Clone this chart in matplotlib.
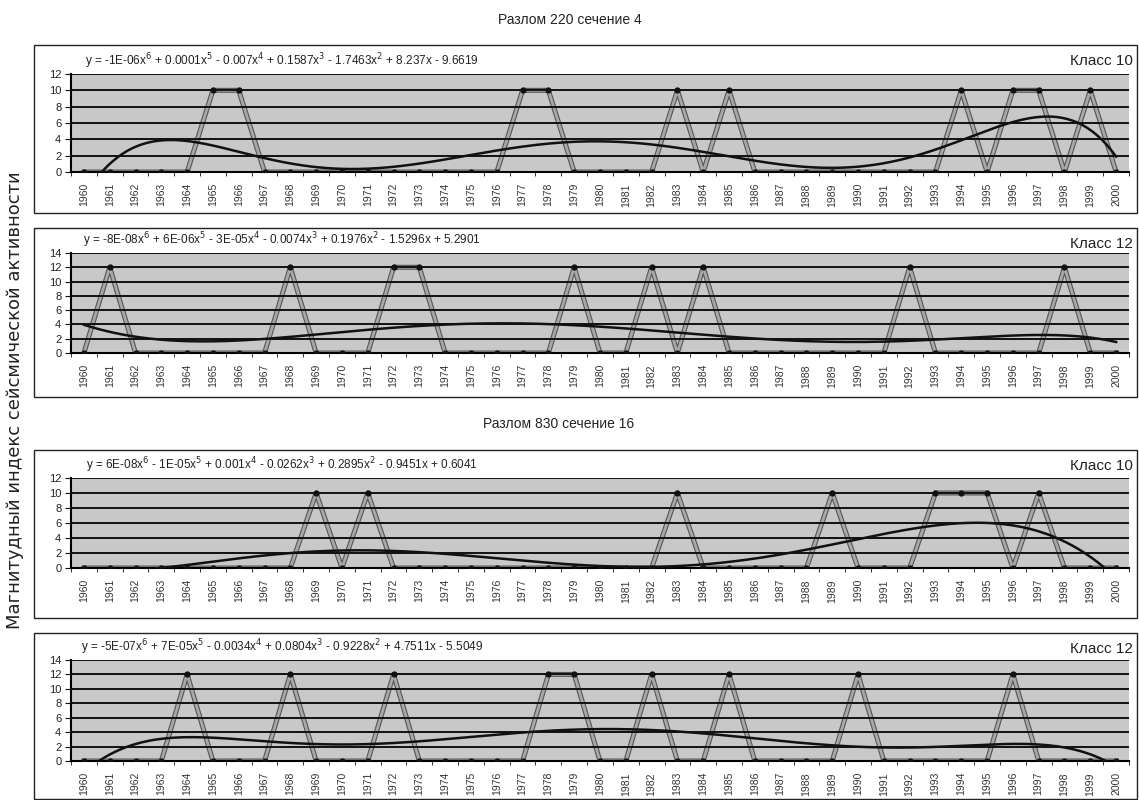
import numpy as np
import matplotlib.pyplot as plt
import matplotlib.patheffects as pe
from matplotlib.patches import Rectangle

years = list(range(1960, 2001))

# peak years for each panel, every other year is 0
f220_k10_years = [1965, 1966, 1977, 1978, 1983, 1985, 1994, 1996, 1997, 1999]
f220_k12_years = [1961, 1968, 1972, 1973, 1979, 1982, 1984, 1992, 1998]
f830_k10_years = [1969, 1971, 1983, 1989, 1993, 1994, 1995, 1997]
f830_k12_years = [1964, 1968, 1972, 1978, 1979, 1982, 1985, 1990, 1996]

f220_k10 = [10 if y in f220_k10_years else 0 for y in years]
f220_k12 = [12 if y in f220_k12_years else 0 for y in years]
f830_k10 = [10 if y in f830_k10_years else 0 for y in years]
f830_k12 = [12 if y in f830_k12_years else 0 for y in years]

eq_220_10 = ("y = -1E-06x$^6$ + 0.0001x$^5$ - 0.007x$^4$ + 0.1587x$^3$ "
             "- 1.7463x$^2$ + 8.237x - 9.6619")
eq_220_12 = ("y = -8E-08x$^6$ + 6E-06x$^5$ - 3E-05x$^4$ - 0.0074x$^3$ "
             "+ 0.1976x$^2$ - 1.5296x + 5.2901")
eq_830_10 = ("y = 6E-08x$^6$ - 1E-05x$^5$ + 0.001x$^4$ - 0.0262x$^3$ "
             "+ 0.2895x$^2$ - 0.9451x + 0.6041")
eq_830_12 = ("y = -5E-07x$^6$ + 7E-05x$^5$ - 0.0034x$^4$ + 0.0804x$^3$ "
             "- 0.9228x$^2$ + 4.7511x - 5.5049")

# (values, ymax, equation, class label, plot top px, plot bottom px, box top px, box bottom px)
panels = [
    (f220_k10, 12, eq_220_10, "Класс 10", 74, 172, 45, 213),
    (f220_k12, 14, eq_220_12, "Класс 12", 253, 353, 228, 397),
    (f830_k10, 12, eq_830_10, "Класс 10", 478, 568, 450, 618),
    (f830_k12, 14, eq_830_12, "Класс 12", 660, 761, 633, 799),
]

W, H = 1139, 800
fig = plt.figure(figsize=(W / 100, H / 100), dpi=100)
fig.patch.set_facecolor("white")
font = ["Liberation Sans", "DejaVu Sans"]

left_px, right_px = 71, 1129
box_l, box_r = 34, 1137

for vals, ymax, eq, klass, top, bot, btop, bbot in panels:
    # chart border
    fig.patches.append(Rectangle((box_l / W, 1 - bbot / H), (box_r - box_l) / W,
                                 (bbot - btop) / H, transform=fig.transFigure,
                                 fill=False, edgecolor="#222222", lw=1.0))
    ax = fig.add_axes([left_px / W, 1 - bot / H, (right_px - left_px) / W, (bot - top) / H])
    ax.set_facecolor("#c8c8c8")
    x = np.arange(len(years))
    for g in range(2, ymax + 1, 2):
        ax.axhline(g, color="#111111", lw=1.4, zorder=3)
    ax.plot(x, vals, color="#a8a8a8", lw=2.0, zorder=2,
            path_effects=[pe.Stroke(linewidth=3.6, foreground="#555555"), pe.Normal()])
    ax.plot(x, vals, "o", color="#111111", ms=3.5, zorder=5)

    # 6th order polynomial trend, as in the spreadsheet (x = 1..41)
    p = np.polynomial.Polynomial.fit(x + 1, vals, 6)
    xs = np.linspace(1, len(years), 400)
    ax.plot(xs - 1, p(xs), color="#111111", lw=1.8, zorder=4)

    ax.set_xlim(-0.5, len(years) - 0.5)
    ax.set_ylim(0, ymax)
    ax.set_yticks(range(0, ymax + 1, 2))
    ax.set_xticks(x)
    ax.set_xticklabels([str(y) for y in years], rotation=90, fontsize=7.5,
                       family=font, color="#333333")
    ax.set_xticks(np.arange(-0.5, len(years), 1), minor=True)
    ax.tick_params(axis="x", which="major", length=0, pad=8)
    ax.tick_params(axis="x", which="minor", length=3, color="#111111")
    ax.tick_params(axis="y", length=4, color="#111111", labelsize=8, pad=3)
    for lab in ax.get_yticklabels():
        lab.set_family(font)
        lab.set_color("#222222")
    for s in ["top", "right"]:
        ax.spines[s].set_visible(False)
    for s in ["left", "bottom"]:
        ax.spines[s].set_linewidth(1.5)
        ax.spines[s].set_zorder(3.5)

    fig.text(282 / W, 1 - (top - 13) / H, eq, ha="center", va="center",
             fontsize=8.5, family=font, color="#222222")
    fig.text(1133 / W, 1 - (btop + 16) / H, klass, ha="right", va="center",
             fontsize=11, family=font, color="#222222")

fig.text(570 / W, 1 - 20 / H, "Разлом 220 сечение 4", ha="center", va="center",
         fontsize=10, family=font, color="#222222")
fig.text(559 / W, 1 - 424 / H, "Разлом 830 сечение 16", ha="center", va="center",
         fontsize=10, family=font, color="#222222")
fig.text(15 / W, 1 - 400 / H, "Магнитудный индекс сейсмической активности",
         rotation=90, ha="center", va="center", fontsize=13, color="#222222")

fig.savefig("out.png", dpi=100)
